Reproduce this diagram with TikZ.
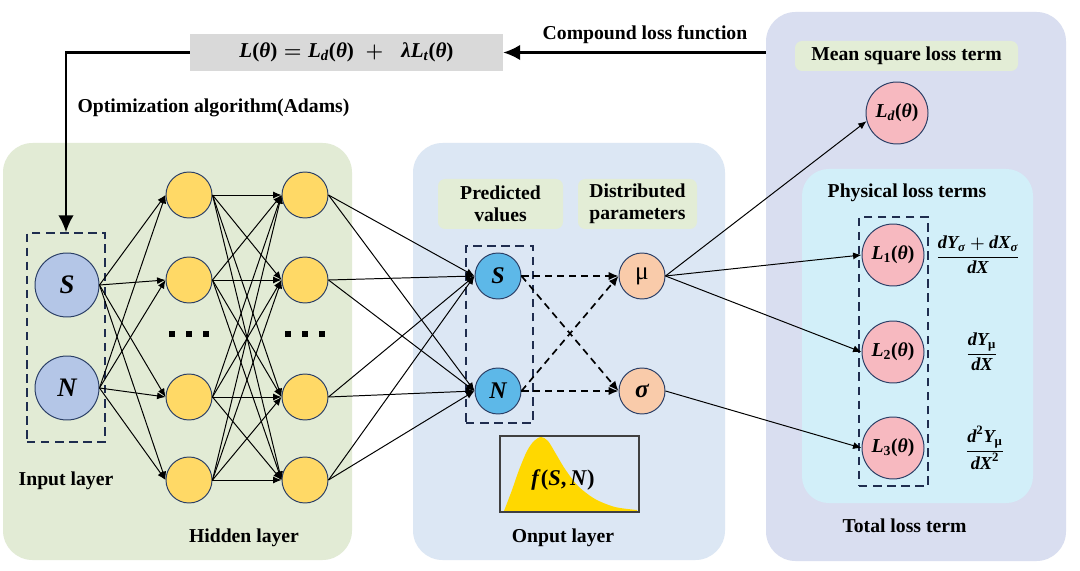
\documentclass[tikz,border=0pt]{standalone}
\usepackage{amsmath}
\usepackage{fontspec}
\setmainfont{Liberation Serif}
\usetikzlibrary{arrows.meta}
\definecolor{pGreen}{HTML}{E2EBD5}
\definecolor{pBlue}{HTML}{DCE7F4}
\definecolor{pLav}{HTML}{D9DEF0}
\definecolor{pCyan}{HTML}{D2EFF9}
\definecolor{tagG}{HTML}{E3EDD6}
\definecolor{grayB}{HTML}{D9D9D9}
\definecolor{inC}{HTML}{B4C6E7}
\definecolor{hidC}{HTML}{FFD966}
\definecolor{outC}{HTML}{5DB8E8}
\definecolor{parC}{HTML}{F9CBAA}
\definecolor{lossC}{HTML}{F7B9C0}
\definecolor{nodeB}{HTML}{2B3F66}
\definecolor{navy}{HTML}{1F2D4F}
\definecolor{goldY}{HTML}{FFD800}
\newcommand{\ux}{0.025cm}
\newcommand{\vb}[1]{\text{\bfseries\itshape #1}}
\newcommand{\pb}[1]{\text{\bfseries #1}}
\newcommand{\Lt}[1]{\vb{L}#1\pb{(}\vb{θ}\pb{)}}
\begin{document}
\begin{tikzpicture}[x=0.025cm,y=-0.025cm,
  panel/.style={draw=none, rounded corners=21pt, inner sep=0},
  tag/.style={draw=none, rounded corners=5pt, fill=tagG, inner sep=0},
  lbl/.style={font=\fontsize{14}{15.5}\selectfont\bfseries, inner sep=0, align=center},
  dbox/.style={draw=navy, dash pattern=on 6pt off 4pt, line width=1.1pt, inner sep=0},
  neu/.style={circle, draw=nodeB, line width=0.7pt, inner sep=0},
  inp/.style={neu, fill=inC, minimum size=64*\ux, font=\fontsize{19}{19}\selectfont\bfseries\itshape},
  hid/.style={neu, fill=hidC, minimum size=46*\ux},
  outn/.style={neu, fill=outC, minimum size=46*\ux, font=\fontsize{17}{17}\selectfont\bfseries\itshape},
  par/.style={neu, fill=parC, minimum size=46*\ux, font=\fontsize{18}{18}\selectfont},
  loss/.style={neu, fill=lossC, minimum size=62*\ux, font=\fontsize{14}{14}\selectfont\boldmath},
  frac/.style={inner sep=0, font=\fontsize{13}{14}\selectfont\bfseries\boldmath},
  conn/.style={-{Latex[length=6pt,width=5pt]}, line width=0.7pt},
  dconn/.style={-{Latex[length=7pt,width=6pt]}, dash pattern=on 5pt off 3.5pt, line width=1.2pt},
  big/.style={-{Latex[length=12pt,width=11pt]}, line width=1.5pt},
]
\useasboundingbox (0,0) rectangle (1080,571);
\fill[white] (0,0) rectangle (1080,571);

% panels
\node[panel, fill=pGreen, minimum width=349*\ux, minimum height=417*\ux] (pG) at (177.5,351.5) {};
\node[panel, fill=pBlue, minimum width=312*\ux, minimum height=417*\ux] (pB) at (569,351.5) {};
\node[panel, fill=pLav, minimum width=300*\ux, minimum height=549*\ux] (pR) at (916,286.5) {};
\node[panel, fill=pCyan, rounded corners=19pt, minimum width=231*\ux, minimum height=334*\ux] (pC) at (917.5,336) {};

% tags
\node[tag, minimum width=125*\ux, minimum height=50*\ux] (pv) at (500.5,204) {};
\node[lbl] (pvt) at (pv) {Predicted\\values};
\node[tag, minimum width=119*\ux, minimum height=50*\ux] (dp) at (637.5,204) {};
\node[lbl] (dpt) at (dp) {Distributed\\parameters};
\node[tag, minimum width=223*\ux, minimum height=30*\ux] (ms) at (906.5,56) {};
\node[lbl] (mst) at (ms) {Mean square loss term};

% formula
\node[fill=grayB, minimum width=313*\ux, minimum height=37*\ux, inner sep=0,
      font=\fontsize{15}{16}\selectfont\boldmath] (F) at (346.5,52.5)
      {$\Lt{}=\Lt{_{\vb{d}}}\;+\;\;\vb{λ}\Lt{_{\vb{t}}}$};

% labels
\node[lbl] (cl) at (645,35) {Compound loss function};
\node[lbl] (oa) at (213.5,108) {Optimization algorithm(Adams)};
\node[lbl] (il) at (66,481) {Input layer};
\node[lbl] (hl) at (244,538) {Hidden layer};
\node[lbl] (ol) at (563,538) {Onput layer};
\node[lbl] (plt) at (907,193) {Physical loss terms};
\node[lbl] (tlt) at (904.5,526) {Total loss term};

% dashed boxes
\node[dbox, minimum width=78*\ux, minimum height=209*\ux] (inbox) at (66,337.5) {};
\node[dbox, minimum width=67*\ux, minimum height=177*\ux] (outbox) at (499.5,334.5) {};
\node[dbox, minimum width=69*\ux, minimum height=269*\ux] (lbox) at (893.5,351.5) {};

% neurons
\node[inp] (iS) at (67,285) {S};
\node[inp] (iN) at (67,388) {N};
\foreach \i/\y in {1/195,2/280,3/397,4/480} {
  \node[hid] (a\i) at (189,\y) {};
  \node[hid] (b\i) at (305,\y) {};
}
\foreach \x in {189,305} \foreach \d in {-17,0,17}
  \fill (\x+\d-3,331) rectangle ++(6,6);

\node[outn] (oS) at (498,276) {S};
\node[outn] (oN) at (498,391) {N};
\node[par] (mu) at (642,276) {μ};
\node[par] (sg) at (642,391) {\bfseries\itshape σ};

\node[loss] (Ld) at (897,113) {$\Lt{_{\vb{d}}}$};
\node[loss] (L1) at (893,255) {$\Lt{_{\pb{1}}}$};
\node[loss] (L2) at (893,352) {$\Lt{_{\pb{2}}}$};
\node[loss] (L3) at (893,448) {$\Lt{_{\pb{3}}}$};

\node[frac] (fr1) at (978,255) {$\dfrac{\vb{dY}_{\vb{σ}}+\vb{dX}_{\vb{σ}}}{\vb{dX}}$};
\node[frac] (fr2) at (982,352) {$\dfrac{\vb{dY}_{\text{μ}}}{\vb{dX}}$};
\node[frac] (fr3) at (985,448) {$\dfrac{\vb{d}^{\pb{2}}\vb{Y}_{\text{μ}}}{\vb{dX}^{\pb{2}}}$};

% distribution
\fill[goldY] plot[smooth] coordinates {(504,511) (512,490) (519,470) (527,451) (534,441) (541,437) (548,441) (556,454) (565,469) (578,486) (595,499) (615,507) (637,510)} -- (637,511) -- cycle;
\node[draw=black!75, line width=1.2pt, minimum width=139*\ux, minimum height=76*\ux, inner sep=0] (dist) at (569.5,474) {};
\node[inner sep=0, font=\fontsize{16}{16}\selectfont\bfseries] (fsn) at (563,480) {\textit{f}(\textit{S},\,\textit{N})};

% connectors
\foreach \s in {iS,iN} \foreach \i in {1,...,4} \draw[conn] (\s.east) -- (a\i.west);
\foreach \i in {1,...,4} \foreach \j in {1,...,4} \draw[conn] (a\i.east) -- (b\j.west);
\foreach \i in {1,...,4} \foreach \t in {oS,oN} \draw[conn] (b\i.east) -- (\t.west);
\foreach \s in {oS,oN} \foreach \t in {mu,sg} \draw[dconn] (\s.east) -- (\t.west);
\draw[conn] (mu.east) -- (Ld.195);
\draw[conn] (mu.east) -- (L1.west);
\draw[conn] (mu.east) -- (L2.west);
\draw[conn] (sg.east) -- (L3.west);

\draw[big] (pR.west |- F.east) -- (F.east);
\draw[big] (F.west) -| (inbox.north);
\end{tikzpicture}
\end{document}
